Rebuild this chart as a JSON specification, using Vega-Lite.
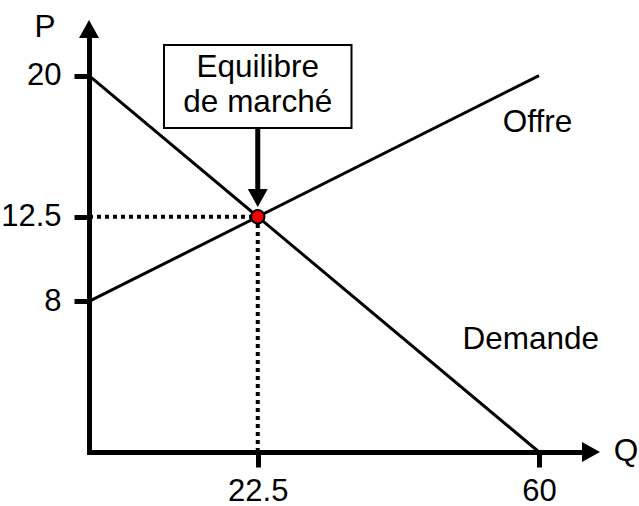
{
  "$schema": "https://vega.github.io/schema/vega-lite/v6.json",
  "autosize": {"type": "none"},
  "width": 495,
  "height": 414,
  "padding": {"left": 89, "top": 38, "right": 55, "bottom": 54},
  "background": "white",
  "config": {
    "view": {"stroke": null},
    "font": "Liberation Sans",
    "text": {"font": "Liberation Sans", "fontSize": 31.5, "color": "black"}
  },
  "datasets": {
    "curves": [
      {"series": "Demande", "q": 0, "p": 20},
      {"series": "Demande", "q": 60, "p": 0},
      {"series": "Offre", "q": 0, "p": 8},
      {"series": "Offre", "q": 60, "p": 20}
    ],
    "guides": [
      {"q": 0, "p": 12.5, "q2": 22.5, "p2": 12.5},
      {"q": 22.5, "p": 0, "q2": 22.5, "p2": 12.5}
    ],
    "box": [{"q": 10, "q2": 35, "p": 21.63, "p2": 17.22}],
    "boxtext": [
      {"q": 22.5, "p": 19.95, "label": "Equilibre"},
      {"q": 22.5, "p": 18.08, "label": "de marché"}
    ],
    "pointer": [{"q": 22.5, "p": 17.22, "q2": 22.5, "p2": 13.9}],
    "heads": [
      {"dir": "down", "q": 22.5, "p": 13.5},
      {"dir": "up", "q": 0, "p": 22.48},
      {"dir": "right", "q": 66.93, "p": 0}
    ],
    "equilibrium": [{"q": 22.5, "p": 12.5}],
    "labels": [
      {"label": "Offre", "q": 59.8, "p": 17.0},
      {"label": "Demande", "q": 58.9, "p": 5.47},
      {"label": "P", "q": -5.87, "p": 22.05},
      {"label": "Q", "q": 71.6, "p": -0.5}
    ]
  },
  "encoding": {
    "x": {
      "field": "q", "type": "quantitative",
      "scale": {"domain": [0, 66], "nice": false, "zero": false},
      "axis": {
        "title": null, "grid": false, "values": [22.5, 60],
        "labelExpr": "'' + datum.value",
        "domainColor": "black", "domainWidth": 5, "domainCap": "square",
        "tickColor": "black", "tickWidth": 5, "tickSize": 15,
        "labelFont": "Liberation Sans", "labelFontSize": 31, "labelColor": "black",
        "labelPadding": 9, "labelFlush": false, "labelOverlap": false
      }
    },
    "y": {
      "field": "p", "type": "quantitative",
      "scale": {"domain": [0, 22], "nice": false, "zero": false},
      "axis": {
        "title": null, "grid": false, "values": [8, 12.5, 20],
        "labelExpr": "'' + datum.value",
        "domainColor": "black", "domainWidth": 5, "domainCap": "square",
        "tickColor": "black", "tickWidth": 5, "tickSize": 15,
        "labelFont": "Liberation Sans", "labelFontSize": 31, "labelColor": "black",
        "labelPadding": 13, "labelFlush": false, "labelOverlap": false
      }
    }
  },
  "layer": [
    {
      "data": {"name": "guides"},
      "mark": {"type": "rule", "color": "black", "strokeWidth": 4, "strokeDash": [4, 4]},
      "encoding": {"x2": {"field": "q2"}, "y2": {"field": "p2"}}
    },
    {
      "data": {"name": "curves"},
      "mark": {"type": "line", "color": "black", "strokeWidth": 3},
      "encoding": {"detail": {"field": "series"}}
    },
    {
      "data": {"name": "box"},
      "mark": {"type": "rect", "fill": "white", "stroke": "black", "strokeWidth": 2},
      "encoding": {"x2": {"field": "q2"}, "y2": {"field": "p2"}}
    },
    {
      "data": {"name": "boxtext"},
      "mark": {"type": "text", "align": "center", "baseline": "alphabetic"},
      "encoding": {"text": {"field": "label"}}
    },
    {
      "data": {"name": "pointer"},
      "mark": {"type": "rule", "color": "black", "strokeWidth": 5},
      "encoding": {"x2": {"field": "q2"}, "y2": {"field": "p2"}}
    },
    {
      "data": {"name": "heads"},
      "mark": {"type": "point", "filled": true, "size": 400, "opacity": 1, "color": "black", "strokeWidth": 0},
      "encoding": {
        "shape": {
          "field": "dir", "type": "nominal", "legend": null,
          "scale": {
            "domain": ["down", "up", "right"],
            "range": ["M-1,-0.9L1,-0.9L0,0.9Z", "M-1,0.9L1,0.9L0,-0.9Z", "M-0.9,-1L0.9,0L-0.9,1Z"]
          }
        }
      }
    },
    {
      "data": {"name": "equilibrium"},
      "mark": {"type": "point", "shape": "circle", "filled": true, "size": 180, "opacity": 1, "fill": "#ff0000", "stroke": "black", "strokeWidth": 2}
    },
    {
      "data": {"name": "labels"},
      "mark": {"type": "text", "align": "center", "baseline": "alphabetic"},
      "encoding": {"text": {"field": "label"}}
    }
  ]
}
